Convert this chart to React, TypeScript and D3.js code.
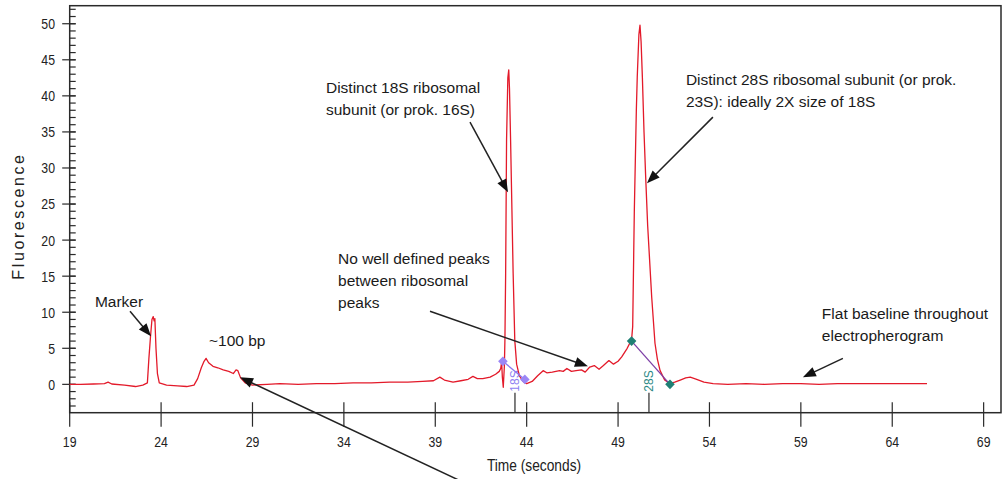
import React from "react";
import * as d3 from "d3";

// ---- Data ----
const traceTime = [
  19.0, 19.6, 20.3, 20.9, 21.1, 21.3, 22.0, 22.6, 23.0, 23.25, 23.33, 23.42, 23.5, 23.57, 23.62, 23.66, 23.72, 23.8, 23.9,
  24.3, 24.9, 25.4, 25.8, 26.0, 26.2, 26.35, 26.46, 26.6, 26.84, 27.1, 27.4, 27.7, 27.95, 28.1, 28.2, 28.35, 28.6,
  29.0, 29.8, 30.5, 31.5, 32.5, 33.5, 34.5, 35.5, 36.5, 37.5, 38.3, 38.9, 39.25, 39.5, 39.97, 40.4, 40.8, 41.06, 41.3,
  41.6, 42.0, 42.3, 42.5, 42.58, 42.63, 42.67, 42.72, 42.78, 42.81, 42.85, 42.9, 42.97, 43.02, 43.06, 43.12, 43.26,
  43.35, 43.45, 43.6, 43.8, 44.0, 44.3, 44.6, 44.9, 45.1, 45.4, 45.8, 46.0, 46.2, 46.45, 46.7, 47.0, 47.2, 47.45, 47.7,
  47.96, 48.2, 48.5, 48.75, 49.0, 49.2, 49.5, 49.74, 49.8, 49.89, 50.0, 50.05, 50.14, 50.2, 50.26, 50.33, 50.42, 50.51,
  50.62, 50.84, 51.02, 51.15, 51.3, 51.55, 51.84, 52.1, 52.4, 52.7, 52.95, 53.3, 53.7, 54.2, 55.0, 56.0, 57.0, 58.0,
  59.0, 60.0, 61.0, 62.0, 63.0, 64.0, 65.0, 65.9,
];
const traceFluor = [
  0.0, 0.0, 0.05, 0.1, 0.3, 0.05, -0.1, -0.3, -0.1, 0.2, 3.5, 6.6, 9.0, 9.4, 8.8, 9.1, 5.0, 1.5, 0.2,
  -0.1, -0.2, -0.3, -0.1, 0.8, 2.3, 3.2, 3.6, 3.0, 2.5, 2.3, 2.0, 1.8, 1.5, 2.0, 1.9, 0.9, 0.2,
  -0.1, 0.0, 0.1, 0.0, 0.1, 0.1, 0.2, 0.2, 0.3, 0.3, 0.4, 0.5, 1.0, 0.6, 0.3, 0.5, 0.7, 1.1, 0.8,
  0.8, 1.0, 1.4, 1.8, 2.2, 3.1, 1.0, -0.4, 2.5, 6.1, 15.4, 33.9, 42.5, 43.6, 41.0, 33.9, 15.4,
  6.1, 2.8, 1.2, 0.4, 0.1, 0.4, 1.2, 1.9, 1.6, 1.7, 1.9, 1.8, 2.2, 1.8, 1.9, 2.0, 1.7, 2.4, 2.6,
  2.1, 2.6, 3.3, 2.8, 3.2, 3.8, 5.0, 6.2, 8.0, 24.1, 38.0, 42.6, 48.5, 49.8, 47.5, 42.6, 35.0, 28.8,
  22.0, 12.1, 5.7, 3.5, 1.9, 0.6, 0.1, 0.3, 0.6, 0.9, 1.0, 0.7, 0.3, 0.1, 0.0, 0.1, 0.0, 0.1,
  0.1, 0.0, 0.1, 0.1, 0.1, 0.1, 0.1, 0.1,
];

const xTicks = [19, 24, 29, 34, 39, 44, 49, 54, 59, 64, 69];
const yTicks = [0, 5, 10, 15, 20, 25, 30, 35, 40, 45, 50];
const yMinorTicks = d3.range(-3, 53, 1);

const peakNames = ["18S", "28S"];
const peakTickTime = [43.36, 50.69];
const peak18Points = [ { t: 42.7, v: 3.19 }, { t: 43.9, v: 0.69 } ];
const peak28Points = [ { t: 49.74, v: 6.0 }, { t: 51.84, v: 0.0 } ];

const annotationTexts = [
  { text: "Marker", t: 20.38, v: 10.69 },
  { text: "~100 bp", t: 26.62, v: 5.27 },
  { text: "Distinct 18S ribosomal", t: 33.02, v: 40.38 },
  { text: "subunit (or prok. 16S)", t: 33.02, v: 37.33 },
  { text: "Distinct 28S ribosomal subunit (or prok.", t: 52.71, v: 41.49 },
  { text: "23S): ideally 2X size of 18S", t: 52.71, v: 38.44 },
  { text: "No well defined peaks", t: 33.68, v: 16.65 },
  { text: "between ribosomal", t: 33.68, v: 13.6 },
  { text: "peaks", t: 33.68, v: 10.55 },
  { text: "Flat baseline throughout", t: 60.15, v: 9.02 },
  { text: "electropherogram", t: 60.15, v: 5.97 },
];

const annotationArrows = [
  { t1: 22.3, v1: 10.13, t2: 23.45, v2: 6.66 },
  { t1: 40.9, v1: 36.36, t2: 42.98, v2: 26.64 },
  { t1: 54.19, v1: 37.05, t2: 50.58, v2: 27.89 },
  { t1: 38.71, v1: 10.13, t2: 47.35, v2: 2.5 },
  { t1: 61.3, v1: 3.61, t2: 59.11, v2: 0.97 },
  { t1: 41.4, v1: -14.6, t2: 28.32, v2: 0.97 },
];

// ---- Layout ----
const W = 1002;
const H = 479;
const plotLeft = 69.7;
const plotRight = 1001;
const plotTop = 5.7;
const plotBottom = 412.7;
const FONT = "Arial, 'Liberation Sans', sans-serif";

export default function App() {
  const x = d3.scaleLinear().domain([19, 69.95]).range([plotLeft, plotRight]);
  const y = d3.scaleLinear().domain([-3.93, 52.5]).range([plotBottom, plotTop]);

  const pts: [number, number][] = traceTime.map((t, i) => [t, traceFluor[i]]);
  const line = d3
    .line<[number, number]>()
    .x((d) => x(d[0]))
    .y((d) => y(d[1]));

  const diamond = (cx: number, cy: number, r: number) =>
    `M${cx},${cy - r}L${cx + r},${cy}L${cx},${cy + r}L${cx - r},${cy}Z`;

  const arrowHead = (x1: number, y1: number, x2: number, y2: number) => {
    const L = 13;
    const w = 5;
    const a = Math.atan2(y2 - y1, x2 - x1);
    const bx = x2 - L * Math.cos(a);
    const by = y2 - L * Math.sin(a);
    const px = -Math.sin(a) * w;
    const py = Math.cos(a) * w;
    return `M${x2},${y2}L${bx + px},${by + py}L${bx - px},${by - py}Z`;
  };

  return (
    <svg
      width={W}
      height={H}
      style={{ position: "absolute", left: 0, top: 0, background: "#fff" }}
      fontFamily={FONT}
    >
      <rect x={0} y={0} width={W} height={H} fill="#fff" />
      {/* frame */}
      <rect
        x={plotLeft}
        y={plotTop}
        width={plotRight - plotLeft}
        height={plotBottom - plotTop}
        fill="none"
        stroke="#2a2a2a"
        strokeWidth={1.5}
      />
      {/* y minor ticks */}
      {yMinorTicks.map((v) => (
        <line key={"ym" + v} x1={plotLeft} x2={plotLeft + 6} y1={y(v)} y2={y(v)} stroke="#2a2a2a" strokeWidth={1.2} />
      ))}
      {/* y major ticks & labels */}
      {yTicks.map((v) => (
        <g key={"y" + v}>
          <line x1={plotLeft - 7.5} x2={plotLeft + 6} y1={y(v)} y2={y(v)} stroke="#2a2a2a" strokeWidth={1.2} />
          <g transform={`translate(55,${y(v)}) scale(0.82,1)`}>
            <text textAnchor="end" dy="0.36em" fontSize={15} fill="#222">
              {v}
            </text>
          </g>
        </g>
      ))}
      {/* x ticks & labels */}
      {xTicks.map((t) => (
        <g key={"x" + t}>
          <line x1={x(t)} x2={x(t)} y1={plotBottom - 10.5} y2={plotBottom + 14} stroke="#2a2a2a" strokeWidth={1.2} />
          <g transform={`translate(${x(t)},442) scale(0.82,1)`}>
            <text textAnchor="middle" dy="0.36em" fontSize={15} fill="#222">
              {t}
            </text>
          </g>
        </g>
      ))}
      {/* axis titles */}
      <g transform={`translate(534,465) scale(0.86,1)`}>
        <text textAnchor="middle" dy="0.36em" fontSize={16} fill="#222">
          Time (seconds)
        </text>
      </g>
      <text
        transform="translate(18,216) rotate(-90)"
        textAnchor="middle"
        dy="0.36em"
        fontSize={16}
        letterSpacing={2.6}
        fill="#222"
      >
        Fluorescence
      </text>

      {/* peak ticks with labels */}
      {peakNames.map((name, i) => {
        const px = x(peakTickTime[i]);
        const col = i === 0 ? "#8f7ff2" : "#2b8a86";
        return (
          <g key={name}>
            <line x1={px} x2={px} y1={plotBottom} y2={plotBottom - 20} stroke="#2a2a2a" strokeWidth={1.2} />
            <text
              transform={`translate(${px},${plotBottom - 21}) rotate(-90)`}
              textAnchor="start"
              dy="0.35em"
              fontSize={12}
              fill={col}
            >
              {name}
            </text>
          </g>
        );
      })}

      {/* trace */}
      <path d={line(pts) || ""} fill="none" stroke="#e31a2a" strokeWidth={1.3} strokeLinejoin="round" />

      {/* peak boundary markers */}
      <line
        x1={x(peak18Points[0].t)}
        y1={y(peak18Points[0].v)}
        x2={x(peak18Points[1].t)}
        y2={y(peak18Points[1].v)}
        stroke="#8c78ee"
        strokeWidth={1.3}
      />
      {peak18Points.map((p, i) => (
        <path key={"d18" + i} d={diamond(x(p.t), y(p.v), 4.8)} fill="#9b86f6" />
      ))}
      <line
        x1={x(peak28Points[0].t)}
        y1={y(peak28Points[0].v)}
        x2={x(peak28Points[1].t)}
        y2={y(peak28Points[1].v)}
        stroke="#7d3fa6"
        strokeWidth={1.3}
      />
      {peak28Points.map((p, i) => (
        <path key={"d28" + i} d={diamond(x(p.t), y(p.v), 4.8)} fill="#1f7f74" />
      ))}

      {/* annotations */}
      {annotationTexts.map((a, i) => (
        <text key={"a" + i} x={x(a.t)} y={y(a.v)} fontSize={15.5} fill="#1a1a1a">
          {a.text}
        </text>
      ))}
      {annotationArrows.map((a, i) => {
        const x1 = x(a.t1), y1 = y(a.v1), x2 = x(a.t2), y2 = y(a.v2);
        const ang = Math.atan2(y2 - y1, x2 - x1);
        return (
          <g key={"ar" + i}>
            <line
              x1={x1}
              y1={y1}
              x2={x2 - 8 * Math.cos(ang)}
              y2={y2 - 8 * Math.sin(ang)}
              stroke="#222"
              strokeWidth={1.5}
            />
            <path d={arrowHead(x1, y1, x2, y2)} fill="#111" />
          </g>
        );
      })}
    </svg>
  );
}
